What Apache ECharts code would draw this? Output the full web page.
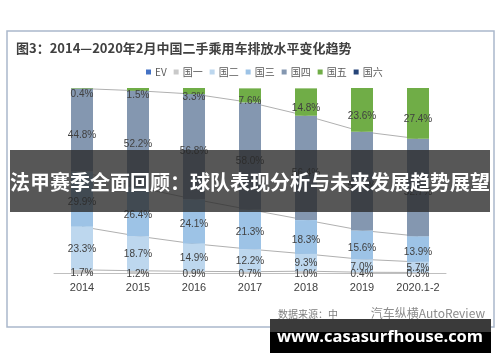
<!DOCTYPE html>
<html>
<head>
<meta charset="utf-8">
<script src="https://cdn.jsdelivr.net/npm/echarts@6/dist/echarts.min.js"></script>
<style>html,body{margin:0;padding:0;background:#fff;}#c{width:500px;height:362px;}</style>
</head>
<body>
<div id="c"></div>
<script>
var categories = ['2014','2015','2016','2017','2018','2019','2020.1-2'];
var ev   = [0, 0, 0, 0, 0, 0, 0];
var guo1 = [1.7, 1.2, 0.9, 0.7, 1.0, 0.4, 0.3];
var guo2 = [23.3, 18.7, 14.9, 12.2, 9.3, 7.0, 5.7];
var guo3 = [29.9, 26.4, 24.1, 21.3, 18.3, 15.6, 13.9];
var guo4 = [44.8, 52.2, 56.8, 58.0, 56.4, 53.4, 52.7];
var guo5 = [0.4, 1.5, 3.3, 7.6, 14.8, 23.6, 27.4];
var guo6 = [0, 0, 0, 0, 0, 0, 0];
var legendNames = ['EV','国一','国二','国三','国四','国五','国六'];

var chart = echarts.init(document.getElementById('c'), null, {renderer: 'canvas'});
var numFont = 'Liberation Sans, Arial, sans-serif';
var cjkFont = 'Noto Sans CJK SC, sans-serif';

function barSeries(name, data, color, showLabel, dy) {
  return {
    name: name, type: 'bar', stack: 'total', data: data, barWidth: 22, z: 3,
    itemStyle: {color: color},
    label: {show: showLabel, position: 'inside', offset: [0, dy || 0],
            formatter: function(p){ return p.value.toFixed(1) + '%'; },
            color: '#404040', fontSize: 10, fontFamily: numFont}
  };
}
function lineSeries(data) {
  return {
    type: 'line', stack: 'lines', data: data, symbol: 'none', silent: true, z: 1,
    lineStyle: {color: '#b0b0b0', width: 1}, tooltip: {show: false}
  };
}

var option = {
  backgroundColor: '#fff',
  animation: false,
  title: {
    text: '图3：2014—2020年2月中国二手乘用车排放水平变化趋势',
    left: 11, top: 37,
    textStyle: {fontSize: 13, fontWeight: 'bold', color: '#404040', fontFamily: cjkFont}
  },
  legend: {
    data: legendNames, left: 141, top: 62, icon: 'rect', itemWidth: 5, itemHeight: 5, itemGap: 7,
    textStyle: {fontSize: 10, color: '#595959', fontFamily: cjkFont, padding: [0, 0, 0, -1]}
  },
  grid: {left: 54, right: 54, top: 88, bottom: 89},
  xAxis: {
    type: 'category', data: categories,
    axisLine: {lineStyle: {color: '#bfbfbf'}}, axisTick: {show: false},
    axisLabel: {color: '#404040', fontSize: 11, fontFamily: numFont, margin: 9, interval: 0}
  },
  yAxis: {type: 'value', min: 0, max: 100, show: false, splitLine: {show: false}},
  series: [
    barSeries('EV', ev, '#4472c4', false),
    barSeries('国一', guo1, '#c9c9c9', true, 2),
    barSeries('国二', guo2, '#bdd7ee', true, 1),
    barSeries('国三', guo3, '#9dc3e6', true, 3),
    barSeries('国四', guo4, '#8497b0', true, 5),
    barSeries('国五', guo5, '#70ad47', true, 6),
    barSeries('国六', guo6, '#264478', false),
    lineSeries(guo1), lineSeries(guo2), lineSeries(guo3), lineSeries(guo4)
  ],
  graphic: [
    {type: 'rect', shape: {x: 7, y: 31, width: 487, height: 296}, style: {fill: 'none', stroke: '#aab8cb', lineWidth: 1.5}, z: 0, silent: true},
    {type: 'text', x: 278, y: 314, style: {text: '数据来源：中', fill: '#7f7f7f', font: '10px ' + cjkFont, verticalAlign: 'middle'}, z: 50},
    {type: 'text', x: 485, y: 313, style: {text: '汽车纵横AutoReview', fill: '#8c8c8c', font: '12px ' + cjkFont, align: 'right', verticalAlign: 'middle'}, z: 50},
    {type: 'rect', shape: {x: 10, y: 150, width: 480, height: 62}, style: {fill: 'rgba(40,40,40,0.78)'}, z: 100, silent: true},
    {type: 'text', x: 250, y: 182, style: {text: '法甲赛季全面回顾：球队表现分析与未来发展趋势展望', fill: '#ffffff', font: 'bold 20px ' + cjkFont, align: 'center', verticalAlign: 'middle'}, z: 101},
    {type: 'rect', shape: {x: 270, y: 319, width: 221, height: 34}, style: {fill: '#000000'}, z: 100, silent: true},
    {type: 'rect', shape: {x: 270, y: 319, width: 221, height: 13}, style: {fill: '#3a3a3a'}, z: 100, silent: true},
    {type: 'text', x: 380, y: 337, style: {text: 'www.casasurfhouse.com', fill: '#ffffff', font: 'bold 16.5px Open Sans, DejaVu Sans, sans-serif', align: 'center', verticalAlign: 'middle'}, z: 101}
  ]
};
chart.setOption(option);
</script>
</body>
</html>
